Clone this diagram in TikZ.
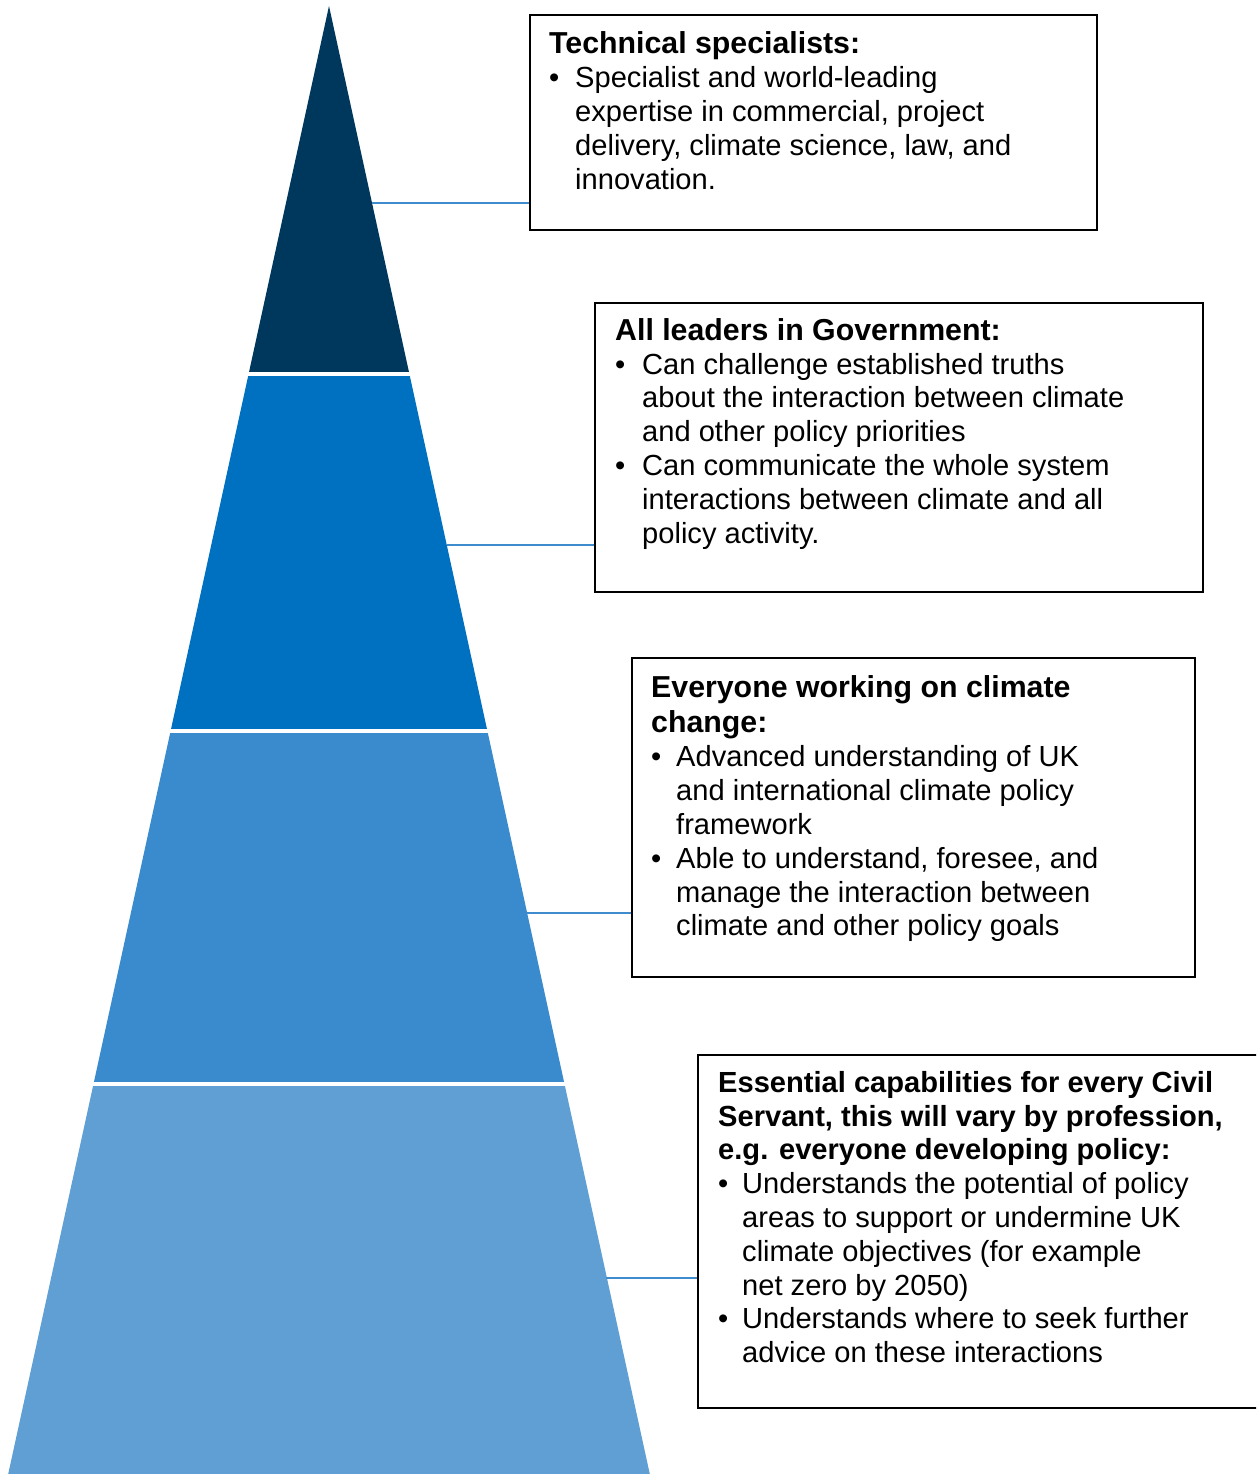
\documentclass[tikz,border=0pt]{standalone}
\usepackage{fontspec}
\setmainfont{Liberation Sans}
\definecolor{navy}{RGB}{0,56,93}
\definecolor{blueA}{RGB}{0,112,192}
\definecolor{blueB}{RGB}{58,138,206}
\definecolor{blueC}{RGB}{95,159,212}
\definecolor{connc}{RGB}{62,140,206}
\newcommand{\bl}[1][24pt]{\makebox[#1][l]{\textbullet}\ignorespaces}
\newcommand{\ind}[1][24pt]{\hspace*{#1}\ignorespaces}
\newcommand{\ttl}[1]{{\fontsize{30.3}{33.8}\selectfont\bfseries #1}}
\begin{document}
\begin{tikzpicture}[x=1pt,y=-1pt,
  box/.style={draw=black,line width=2pt,fill=none,anchor=north west,inner sep=0pt},
  txt/.style={anchor=north west,inner sep=0pt,align=left,font=\fontsize{29.1}{33.8}\selectfont},
  conn/.style={draw=connc,line width=2pt},
  sep/.style={draw=white,line width=3.5pt}]
\clip (0,0) rectangle (1256,1474);
\fill[white] (0,0) rectangle (1256,1474);
% pyramid layers
\fill[navy] (329,6) -- (409.4,374) -- (248.6,374) -- cycle;
\fill[blueA] (248.6,374) -- (409.4,374) -- (487.4,731) -- (170.6,731) -- cycle;
\fill[blueB] (170.6,731) -- (487.4,731) -- (564.5,1084) -- (93.5,1084) -- cycle;
\fill[blueC] (93.5,1084) -- (564.5,1084) -- (649.8,1474) -- (8.2,1474) -- cycle;
\draw[sep] (246,374) -- (412,374);
\draw[sep] (168,731) -- (490,731);
\draw[sep] (91,1084) -- (567,1084);
% boxes
\node[box,minimum width=567pt,minimum height=215pt] (b1) at (529,14) {};
\node[box,minimum width=608pt,minimum height=289pt] (b2) at (594,302) {};
\node[box,minimum width=563pt,minimum height=319pt] (b3) at (631,657) {};
\node[box,minimum width=590pt,minimum height=353pt] (b4) at (697,1054) {};
% connectors
\coordinate (e1) at (372,203);
\coordinate (e2) at (446.5,545);
\coordinate (e3) at (527,913);
\coordinate (e4) at (606,1278);
\draw[conn] (e1) -- (e1 -| b1.west);
\draw[conn] (e2) -- (e2 -| b2.west);
\draw[conn] (e3) -- (e3 -| b3.west);
\draw[conn] (e4) -- (e4 -| b4.west);
% texts
\node[txt] (t1) at (549,29) {\rule{0pt}{24pt}\ttl{Technical specialists:}\\[1pt]
\bl[26pt]Specialist and world-leading\\
\ind[26pt]expertise in commercial, project\\
\ind[26pt]delivery, climate science, law, and\\
\ind[26pt]innovation.};
\node[txt] (t2) at (615,316) {\rule{0pt}{24pt}\ttl{All leaders in Government:}\\
\bl[27pt]Can challenge established truths\\
\ind[27pt]about the interaction between climate\\
\ind[27pt]and other policy priorities\\
\bl[27pt]Can communicate the whole system\\
\ind[27pt]interactions between climate and all\\
\ind[27pt]policy activity.};
\node[txt] (t3) at (651,673) {\rule{0pt}{24pt}\ttl{Everyone working on climate}\\[1pt]
\ttl{change:}\\[1pt]
\bl[25pt]Advanced understanding of UK\\
\ind[25pt]and international climate policy\\
\ind[25pt]framework\\
\bl[25pt]Able to understand, foresee, and\\
\ind[25pt]manage the interaction between\\
\ind[25pt]climate and other policy goals};
\node[txt] (t4) at (718,1068) {\rule{0pt}{24pt}\textbf{Essential capabilities for every Civil}\\
\textbf{Servant, this will vary by profession,}\\
\textbf{e.g. everyone developing policy:}\\
\bl Understands the potential of policy\\
\ind areas to support or undermine UK\\
\ind climate objectives (for example\\
\ind net zero by 2050)\\
\bl Understands where to seek further\\
\ind advice on these interactions};
\end{tikzpicture}
\end{document}
